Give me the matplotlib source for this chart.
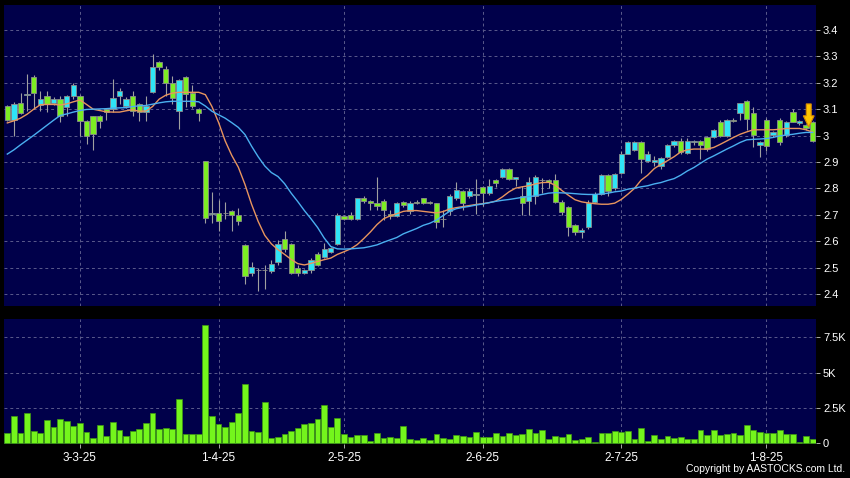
import numpy as np
import matplotlib
matplotlib.use("Agg")
import matplotlib.pyplot as plt
from matplotlib.patches import FancyArrow
from matplotlib.ticker import FixedLocator, FixedFormatter, FormatStrFormatter

plt.rcParams['font.family'] = ['Liberation Sans', 'DejaVu Sans']

# daily OHLC (123 sessions)
OPEN = [3.113, 3.060, 3.122, 3.155, 3.223, 3.117, 3.150, 3.122, 3.140, 3.107,
        3.151, 3.150, 3.055, 3.073, 3.073, 3.100, 3.100, 3.151, 3.114, 3.151,
        3.120, 3.089, 3.164, 3.280, 3.254, 3.199, 3.092, 3.222, 3.163, 3.101,
        2.904, 2.703, 2.705, 2.705, 2.716, 2.699, 2.586, 2.479, 2.489, 2.489,
        2.488, 2.523, 2.610, 2.590, 2.498, 2.481, 2.490, 2.552, 2.540, 2.560,
        2.590, 2.695, 2.700, 2.684, 2.762, 2.751, 2.745, 2.751, 2.702, 2.696,
        2.747, 2.713, 2.750, 2.762, 2.749, 2.743, 2.683, 2.713, 2.762, 2.791,
        2.772, 2.775, 2.804, 2.781, 2.833, 2.842, 2.873, 2.835, 2.772, 2.753,
        2.772, 2.830, 2.831, 2.831, 2.750, 2.730, 2.662, 2.635, 2.652, 2.750,
        2.780, 2.851, 2.803, 2.860, 2.932, 2.945, 2.974, 2.904, 2.900, 2.885,
        2.919, 2.965, 2.981, 2.935, 2.976, 2.981, 2.994, 2.994, 3.052, 3.000,
        3.060, 3.085, 3.131, 3.085, 2.965, 3.060, 3.003, 3.060, 3.002, 3.090,
        3.048, 3.040, 3.052]
HIGH = [3.116, 3.128, 3.160, 3.235, 3.228, 3.170, 3.170, 3.145, 3.150, 3.155,
        3.200, 3.155, 3.060, 3.075, 3.078, 3.105, 3.214, 3.180, 3.145, 3.170,
        3.125, 3.150, 3.310, 3.283, 3.262, 3.225, 3.215, 3.226, 3.190, 3.105,
        2.905, 2.785, 2.755, 2.748, 2.720, 2.725, 2.590, 2.520, 2.500, 2.510,
        2.530, 2.605, 2.640, 2.595, 2.510, 2.495, 2.535, 2.560, 2.592, 2.578,
        2.705, 2.700, 2.710, 2.765, 2.770, 2.755, 2.842, 2.760, 2.720, 2.750,
        2.752, 2.753, 2.755, 2.765, 2.752, 2.745, 2.720, 2.780, 2.823, 2.795,
        2.800, 2.835, 2.810, 2.835, 2.835, 2.876, 2.876, 2.845, 2.810, 2.842,
        2.850, 2.841, 2.835, 2.854, 2.755, 2.735, 2.665, 2.651, 2.755, 2.785,
        2.855, 2.855, 2.858, 2.940, 2.978, 2.978, 2.978, 2.940, 2.923, 2.920,
        2.970, 2.985, 2.990, 2.992, 2.982, 2.985, 3.000, 3.025, 3.060, 3.062,
        3.065, 3.125, 3.135, 3.110, 2.980, 3.065, 3.016, 3.065, 3.056, 3.100,
        3.060, 3.045, 3.055]
LOW = [3.055, 3.000, 3.080, 3.095, 3.100, 3.095, 3.090, 3.115, 3.050, 3.075,
       3.140, 3.000, 2.970, 2.945, 3.030, 3.060, 3.090, 3.120, 3.105, 3.075,
       3.055, 3.055, 3.160, 3.250, 3.150, 3.120, 3.026, 3.110, 3.105, 3.055,
       2.668, 2.670, 2.639, 2.685, 2.639, 2.660, 2.439, 2.470, 2.410, 2.420,
       2.480, 2.510, 2.560, 2.475, 2.470, 2.476, 2.480, 2.505, 2.535, 2.555,
       2.585, 2.680, 2.680, 2.680, 2.745, 2.720, 2.720, 2.680, 2.685, 2.690,
       2.730, 2.703, 2.740, 2.740, 2.740, 2.650, 2.652, 2.700, 2.755, 2.720,
       2.765, 2.703, 2.732, 2.775, 2.805, 2.838, 2.830, 2.810, 2.700, 2.700,
       2.740, 2.784, 2.800, 2.745, 2.700, 2.620, 2.625, 2.611, 2.648, 2.745,
       2.775, 2.772, 2.795, 2.855, 2.930, 2.940, 2.860, 2.900, 2.885, 2.875,
       2.915, 2.955, 2.930, 2.930, 2.966, 2.913, 2.940, 2.990, 2.995, 2.995,
       3.050, 3.060, 3.020, 2.955, 2.920, 2.940, 2.995, 2.965, 2.995, 3.050,
       3.040, 3.020, 2.975]
CLOSE = [3.060, 3.120, 3.085, 3.155, 3.163, 3.140, 3.120, 3.140, 3.076, 3.150,
         3.193, 3.057, 2.998, 3.005, 3.057, 3.090, 3.141, 3.170, 3.139, 3.095,
         3.089, 3.114, 3.260, 3.261, 3.201, 3.143, 3.211, 3.158, 3.114, 3.085,
         2.689, 2.703, 2.676, 2.705, 2.699, 2.676, 2.470, 2.501, 2.489, 2.489,
         2.515, 2.590, 2.570, 2.480, 2.481, 2.490, 2.530, 2.511, 2.572, 2.574,
         2.701, 2.684, 2.684, 2.762, 2.751, 2.744, 2.735, 2.719, 2.694, 2.743,
         2.737, 2.743, 2.743, 2.743, 2.743, 2.671, 2.683, 2.772, 2.794, 2.743,
         2.791, 2.775, 2.781, 2.810, 2.820, 2.873, 2.835, 2.842, 2.743, 2.823,
         2.842, 2.830, 2.825, 2.750, 2.712, 2.652, 2.633, 2.642, 2.746, 2.778,
         2.851, 2.790, 2.854, 2.932, 2.974, 2.974, 2.913, 2.932, 2.906, 2.914,
         2.965, 2.981, 2.937, 2.981, 2.976, 2.965, 2.950, 3.022, 3.000, 3.060,
         3.054, 3.123, 3.062, 3.002, 2.977, 2.962, 3.014, 2.975, 3.052, 3.052,
         3.055, 3.030, 2.980]

# moving averages as drawn (orange = short, blue = long)
MA_SHORT = [3.048, 3.056, 3.066, 3.081, 3.100, 3.117, 3.118, 3.118, 3.116, 3.120,
            3.128, 3.135, 3.118, 3.100, 3.095, 3.090, 3.089, 3.089, 3.094, 3.098,
            3.092, 3.093, 3.110, 3.138, 3.153, 3.161, 3.164, 3.164, 3.164, 3.164,
            3.155, 3.110, 3.050, 2.980, 2.925, 2.880, 2.815, 2.740, 2.675, 2.622,
            2.590, 2.568, 2.550, 2.531, 2.515, 2.510, 2.516, 2.523, 2.530, 2.536,
            2.550, 2.560, 2.571, 2.587, 2.610, 2.635, 2.663, 2.685, 2.696, 2.704,
            2.713, 2.716, 2.716, 2.713, 2.710, 2.707, 2.712, 2.722, 2.727, 2.731,
            2.735, 2.739, 2.742, 2.746, 2.752, 2.768, 2.787, 2.801, 2.806, 2.810,
            2.817, 2.822, 2.823, 2.812, 2.792, 2.774, 2.757, 2.749, 2.745, 2.742,
            2.740, 2.740, 2.744, 2.758, 2.778, 2.800, 2.831, 2.850, 2.875, 2.891,
            2.905, 2.920, 2.938, 2.946, 2.949, 2.949, 2.949, 2.955, 2.967, 2.980,
            2.993, 3.005, 3.014, 3.022, 3.022, 3.022, 3.022, 3.024, 3.027, 3.027,
            3.027, 3.022, 3.013]
MA_LONG = [2.930, 2.946, 2.965, 2.983, 3.001, 3.020, 3.039, 3.058, 3.076, 3.082,
           3.089, 3.095, 3.099, 3.100, 3.101, 3.102, 3.104, 3.105, 3.106, 3.110,
           3.113, 3.114, 3.119, 3.124, 3.128, 3.130, 3.130, 3.130, 3.130, 3.128,
           3.112, 3.092, 3.079, 3.066, 3.049, 3.031, 3.004, 2.960, 2.920, 2.885,
           2.860, 2.845, 2.818, 2.782, 2.750, 2.716, 2.685, 2.652, 2.612, 2.580,
           2.571, 2.570, 2.571, 2.573, 2.575, 2.580, 2.586, 2.596, 2.605, 2.614,
           2.628, 2.638, 2.648, 2.660, 2.668, 2.680, 2.697, 2.713, 2.723, 2.728,
           2.732, 2.737, 2.741, 2.746, 2.751, 2.755, 2.758, 2.762, 2.766, 2.769,
           2.772, 2.777, 2.782, 2.784, 2.783, 2.782, 2.780, 2.778, 2.777, 2.777,
           2.779, 2.782, 2.787, 2.790, 2.797, 2.801, 2.806, 2.810, 2.817, 2.822,
           2.830, 2.837, 2.850, 2.866, 2.879, 2.895, 2.911, 2.923, 2.936, 2.949,
           2.961, 2.974, 2.984, 2.986, 2.987, 2.989, 2.993, 2.999, 3.002, 3.005,
           3.009, 3.012, 3.012]

# volume in thousands
VOLUME_K = [0.71, 1.96, 0.76, 2.15, 0.90, 0.73, 1.65, 1.18, 1.75, 1.61,
            1.25, 1.44, 0.80, 0.40, 1.30, 0.54, 1.51, 0.94, 0.52, 0.90,
            0.99, 1.46, 2.17, 1.02, 1.09, 1.04, 3.14, 0.66, 0.66, 0.68,
            8.36, 1.91, 1.35, 1.16, 1.49, 2.15, 4.23, 0.90, 0.78, 2.93,
            0.35, 0.45, 0.64, 0.87, 1.06, 1.35, 1.44, 1.70, 2.69, 1.18,
            1.79, 0.64, 0.45, 0.59, 0.59, 0.17, 0.73, 0.40, 0.45, 0.35,
            1.23, 0.31, 0.24, 0.38, 0.24, 0.64, 0.40, 0.33, 0.57, 0.50,
            0.45, 0.83, 0.45, 0.47, 0.71, 0.52, 0.71, 0.59, 0.66, 1.02,
            0.73, 0.92, 0.28, 0.52, 0.42, 0.66, 0.26, 0.31, 0.47, 0.12,
            0.71, 0.71, 0.85, 0.83, 0.90, 0.28, 1.06, 0.19, 0.59, 0.33,
            0.52, 0.38, 0.42, 0.28, 0.33, 0.92, 0.57, 0.92, 0.57, 0.64,
            0.71, 0.57, 1.32, 0.92, 0.78, 0.71, 0.73, 0.97, 0.68, 0.64,
            0.09, 0.52, 0.33]

DATE_TICKS = [11, 32, 51, 72, 93, 115]
DATE_LABELS = ["3-3-25", "1-4-25", "2-5-25", "2-6-25", "2-7-25", "1-8-25"]
PRICE_TICKS = [2.4, 2.5, 2.6, 2.7, 2.8, 2.9, 3.0, 3.1, 3.2, 3.3, 3.4]
VOL_TICKS = [0, 2.5, 5, 7.5]
VOL_LABELS = ["0", "2.5K", "5K", "7.5K"]
SIGNAL_IDX = 121   # yellow down-arrow

NAVY = "#00004a"
UP, DOWN = "#2fe4f6", "#7cee22"
GRID = "#5a5a8c"

o, h, l, c = (np.array(a) for a in (OPEN, HIGH, LOW, CLOSE))
x = np.arange(len(o))

fig = plt.figure(figsize=(8.5, 4.78), dpi=100, facecolor="black")
W, H = 850, 478
ax = fig.add_axes([4 / W, 1 - 306 / H, 812 / W, 301 / H], facecolor=NAVY)
axv = fig.add_axes([4 / W, 1 - 444 / H, 812 / W, 125 / H], facecolor=NAVY)

for a in (ax, axv):
    for s in a.spines.values():
        s.set_visible(False)
    a.set_xlim(-0.5, len(o) - 0.5)
    a.xaxis.set_major_locator(FixedLocator(DATE_TICKS))
    a.grid(True, color=GRID, ls=(0, (3, 3)), lw=0.7)
    a.set_axisbelow(True)
    a.yaxis.tick_right()
    a.tick_params(axis="y", colors="#aaaaaa", labelcolor="white",
                  labelsize=8, length=3, width=0.7, pad=2)

# candles
ax.vlines(x, l, h, color="#a0a0a0", lw=0.8, zorder=2)
up = c >= o
body_lo = np.minimum(o, c)
body_h = np.maximum(np.abs(c - o), 0.0025)
ax.bar(x, body_h, bottom=body_lo, width=0.8,
       color=np.where(up, UP, DOWN), edgecolor="#8c8c8c", lw=0.6, zorder=3)

ax.plot(x, MA_SHORT, color="#e8955e", lw=1.0, zorder=4)
ax.plot(x, MA_LONG, color="#4aaff0", lw=1.0, zorder=4)

y_top = 3.12
tip = c[SIGNAL_IDX] + 0.003
ax.add_patch(FancyArrow(SIGNAL_IDX + 0.4, y_top, 0, tip - y_top, width=0.75,
                        head_width=1.65, head_length=0.042,
                        length_includes_head=True, fc="#ffc400",
                        ec="#d88a00", lw=0.8, zorder=6))

ax.set_ylim(2.3545, 3.4947)
ax.yaxis.set_major_locator(FixedLocator(PRICE_TICKS))
ax.yaxis.set_major_formatter(FormatStrFormatter("%g"))
ax.tick_params(axis="x", bottom=False, labelbottom=False)

# volume
axv.bar(x, VOLUME_K, width=0.88, color="#74f51c", edgecolor="#3f9a12",
        lw=0.5, zorder=3)
axv.set_ylim(-0.05, 8.8)
axv.yaxis.set_major_locator(FixedLocator(VOL_TICKS))
axv.yaxis.set_major_formatter(FixedFormatter(VOL_LABELS))
axv.yaxis.grid(False)
for v in VOL_TICKS[1:]:
    axv.axhline(v, color=GRID, ls=(0, (3, 3)), lw=0.7, zorder=0)
axv.xaxis.set_major_formatter(FixedFormatter(DATE_LABELS))
axv.tick_params(axis="x", colors="#aaaaaa", labelcolor="white",
                labelsize=8.5, length=3, width=0.7, pad=3)

fig.text(0.994, 0.008, "Copyright by AASTOCKS.com Ltd.", color="white",
         fontsize=7.5, ha="right", va="bottom")

fig.savefig("out.png", dpi=100, facecolor="black")
